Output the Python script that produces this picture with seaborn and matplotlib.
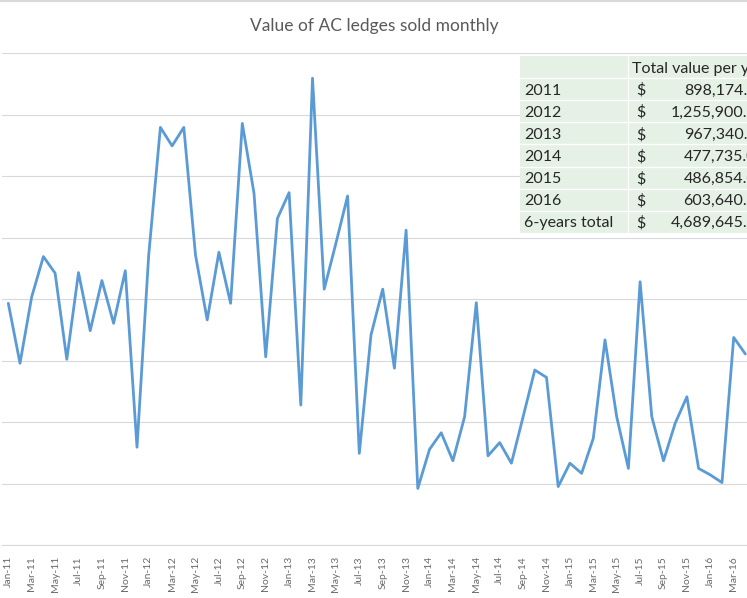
import numpy as np
import pandas as pd
import matplotlib
matplotlib.use('Agg')
import matplotlib.pyplot as plt
from matplotlib.patches import Rectangle
import seaborn as sns

# monthly values (Jan-11 .. Apr-16)
v2011 = [78600, 59100, 80700, 93800, 88400, 60400, 88600, 69700, 86000, 72100, 89200, 31800]
v2012 = [94300, 135800, 129800, 135800, 94300, 73200, 95200, 78600, 137100, 114400, 61200, 106200]
v2013 = [114600, 45500, 151800, 83200, 98100, 113500, 29800, 68300, 83200, 57500, 102400, 18400]
v2014 = [31100, 36500, 27400, 41700, 78800, 29000, 33300, 26600, 41700, 56900, 54500, 19000]
v2015 = [26600, 23300, 34700, 66700, 41700, 24900, 85600, 41700, 27400, 39600, 48200, 24900]
v2016 = [22800, 20300, 67500, 62100]

table_rows = ['2011', '2012', '2013', '2014', '2015', '2016', '6-years total']
table_totals = [898174.00, 1255900.00, 967340.00, 477735.00, 486854.00, 603640.00, 4689645.00]
table_header = 'Total value per year'
title = 'Value of AC ledges sold monthly'

values = v2011 + v2012 + v2013 + v2014 + v2015 + v2016
months = pd.date_range('2011-01-01', periods=72, freq='MS')
df = pd.DataFrame({'idx': np.arange(len(values)), 'value': values})

sns.set_style('white')
plt.rcParams['font.family'] = ['Lato', 'DejaVu Sans']

W, H = 747, 598
fig = plt.figure(figsize=(W / 100, H / 100), dpi=100)

# plot area: one month = 11.7 px, first point at x=8.3, y 0 at 545 px, 160k at 53 px
step = 11.7
left = 8.3 - step / 2
ax = fig.add_axes([left / W, 53 / H, 72 * step / W, 492 / H])
sns.lineplot(data=df, x='idx', y='value', ax=ax, color='#5b9bd5', linewidth=2)

ax.set_xlim(-0.5, 71.5)
ax.set_ylim(0, 160000)
ax.set_yticks(np.arange(0, 160001, 20000))
ax.yaxis.grid(True, color='#d9d9d9', linewidth=0.8)
ax.set_yticklabels([])
ticks = np.arange(0, 63, 2)
ax.set_xticks(ticks)
ax.set_xticklabels([months[i].strftime('%b-%y') for i in ticks], rotation=90,
                   fontsize=7.5, color='#6a6a6a')
ax.tick_params(axis='both', length=0)
ax.tick_params(axis='x', pad=8)
ax.set_xlabel('')
ax.set_ylabel('')
for s in ['left', 'right', 'top']:
    ax.spines[s].set_visible(False)
ax.spines['bottom'].set_color('#d9d9d9')

# overlay in pixel coordinates for title and the table
ov = fig.add_axes([0, 0, 1, 1], facecolor='none')
ov.set_xlim(0, W)
ov.set_ylim(H, 0)
ov.axis('off')
ov.axhline(1, color='#d9d9d9', linewidth=1.5)
ov.text(374, 26, title, ha='center', va='center', fontsize=12.5, color='#595959')

row_h = 22.1
top = 56
n = len(table_rows) + 1
ov.add_patch(Rectangle((520, top), 260, n * row_h, facecolor='#e6f1e6', edgecolor='none'))
for i in range(1, n):
    ov.plot([520, 780], [top + i * row_h] * 2, color='white', linewidth=1)
ov.plot([628, 628], [top, top + n * row_h], color='white', linewidth=0.8)

fs = 11.5
ov.text(632, top + row_h / 2 + 1.5, table_header, ha='left', va='center', fontsize=fs, color='#262626')
for i, (lab, tot) in enumerate(zip(table_rows, table_totals)):
    yc = top + (i + 1.5) * row_h + 1.5
    ov.text(524, yc, lab, ha='left', va='center', fontsize=fs, color='#262626')
    ov.text(636, yc, '$', ha='left', va='center', fontsize=fs, color='#262626')
    ov.text(766, yc, f'{tot:,.2f}', ha='right', va='center', fontsize=fs, color='#262626')

fig.savefig('out.png', dpi=100)
